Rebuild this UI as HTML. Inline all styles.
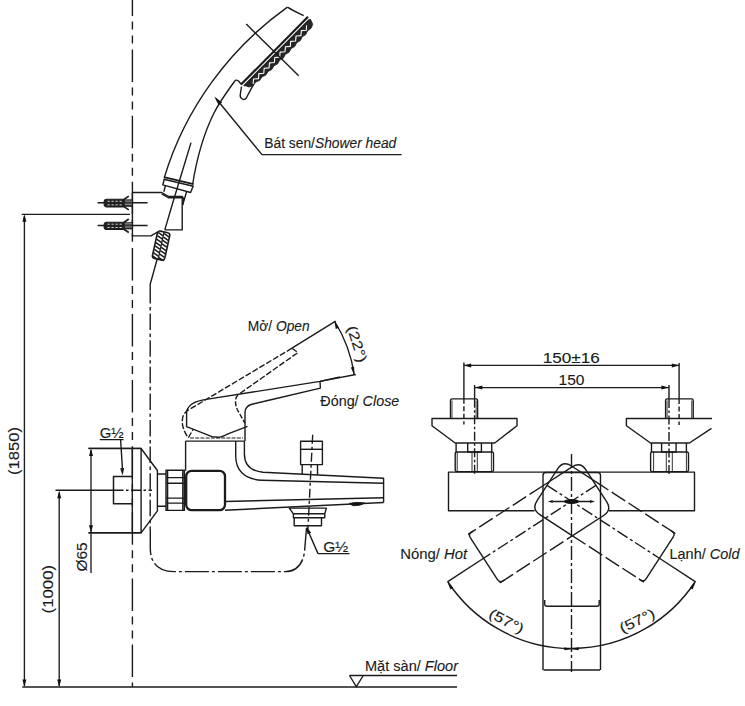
<!DOCTYPE html>
<html><head><meta charset="utf-8">
<style>
html,body{margin:0;padding:0;background:#fff;width:745px;height:706px;overflow:hidden}
svg{display:block}
text{font-family:"Liberation Sans",sans-serif}
</style></head><body>
<svg width="745" height="706" viewBox="0 0 745 706">
<g fill="none" stroke="#1b1b1b" stroke-width="1.4" stroke-linejoin="round" stroke-linecap="butt">
<path d="M132.4,0 V687" stroke-dasharray="32.5 5.5 8 6 8 6.1" stroke-dashoffset="16.5"/>
<path d="M132.4,192.5 V236.3" />
<path d="M287.4,7.1 C229.3,48.4 184.8,109.2 164.4,177.4" />
<path d="M287.4,7.1 C292,10 297,12.5 303.7,15.6" />
<path d="M308.00,16.80 L241.00,84.60" stroke-width="2.2"/>
<path d="M309.36,19.55 L243.77,85.93" stroke-width="1.4"/>
<path d="M310.28,19.05 L312.74,24.29 L311.06,28.34 L307.60,30.64 L305.80,34.57 L302.25,36.76 L300.35,40.60 L296.72,42.71 L294.76,46.49 L291.08,48.55 L289.09,52.29 L285.38,54.34 L283.38,58.07 L279.67,60.11 L277.65,63.82 L273.90,65.82 L271.83,69.49 L268.02,71.43 L265.88,75.02 L261.98,76.87 L259.73,80.36 L255.71,82.10 L253.34,85.46 L249.18,87.06 L244.68,85.43 z" fill="#262626" stroke="#1b1b1b" stroke-width="0.8"/>
<path d="M306.64,25.29 L306.26,30.23 L301.33,30.67 L300.95,35.60 L296.02,36.04 L295.64,40.98 L290.71,41.41 L290.33,46.35 L285.40,46.79 L285.02,51.72 L280.09,52.16 L279.71,57.10 L274.78,57.53 L274.40,62.47 L269.47,62.91 L269.09,67.84 L264.16,68.28 L263.78,73.22 L258.85,73.65 L258.47,78.59 L253.54,79.03 L253.16,83.96" fill="none" stroke="#fff" stroke-width="1.1"/>
<path d="M246.3,24.1 L298.7,75.8" />
<path d="M241.3,84.3 L238.5,81 C237,80 236,80 235.3,80.3 C229,89 220,101 214,113 C204,133 196.5,160 192.6,184.5" />
<path d="M241.5,86.5 L240.2,95 C240,99 244,100.5 246,98.5 L253.4,84.6" />
<path d="M216,98.5 L262,154.6 H401.6" />
<path d="M214.30,96.50 L222.05,102.42 L218.66,105.22 z" fill="#111" stroke="none"/>
<path d="M191,142.6 L172.1,205 L164.8,229.9" />
<path d="M163.8,177.1 L193.6,184.1" stroke-width="1.6"/>
<path d="M163.8,179.2 L193.3,186.2" stroke-width="1.6"/>
<path d="M164.4,178.8 L162.8,184.8 L190.6,192.5 L193.3,185.8" />
<path d="M165.4,185.8 L163.8,191.8 M186.6,191.8 L182.6,205" />
<path d="M132.4,192.5 H161.7 L168.8,196.5 H182.2 V229.9 H164.8 M157.9,231.9 L150.9,235.9 H132.4" />
<path d="M161.7,193.8 L168.8,197.8 H182.2" />
<path d="M182.2,196.5 L183.8,199 L182.6,205" />
<path d="M97.6,202.7 H147.6" stroke-width="1.5"/>
<rect x="104.1" y="199.3" width="21" height="7.6" rx="2.8" fill="#222" stroke="#1b1b1b" stroke-width="1.1"/>
<path d="M107.5,201.3 H122.5 M107.5,204.9 H122.5" stroke="#e8e8e8" stroke-width="0.9" stroke-dasharray="2.2 1.8"/>
<path d="M123.5,199.8 L128.8,196.1 M123.5,206.4 L128.8,209.9" stroke-width="1.7"/>
<rect x="124.6" y="199.8" width="7.5" height="6.6" fill="#3a3a3a" stroke="#1b1b1b" stroke-width="0.8"/>
<path d="M124.8,201.1 H131.8 M124.8,204.3 H131.8" stroke="#bbb" stroke-width="0.7"/>
<path d="M97.6,225.4 H147.6" stroke-width="1.5"/>
<rect x="104.1" y="222.2" width="21" height="7.3" rx="2.8" fill="#222" stroke="#1b1b1b" stroke-width="1.1"/>
<path d="M107.5,224.2 H122.5 M107.5,227.5 H122.5" stroke="#e8e8e8" stroke-width="0.9" stroke-dasharray="2.2 1.8"/>
<path d="M123.5,222.7 L128.8,219.0 M123.5,229.0 L128.8,232.5" stroke-width="1.7"/>
<rect x="124.6" y="222.7" width="7.5" height="6.3" fill="#3a3a3a" stroke="#1b1b1b" stroke-width="0.8"/>
<path d="M124.8,223.8 H131.8 M124.8,227.0 H131.8" stroke="#bbb" stroke-width="0.7"/>
<g transform="rotate(12.3 161 245.6)">
<rect x="154.8" y="231.6" width="12.6" height="28" rx="2.5" fill="#fff" stroke="#1b1b1b" stroke-width="1.6"/>
<path d="M155.3,233.2 L160.6,235.4 M161.6,233.2 L166.9,235.4" stroke="#1b1b1b" stroke-width="1.5"/>
<path d="M155.3,236.7 L160.6,238.9 M161.6,236.7 L166.9,238.9" stroke="#1b1b1b" stroke-width="1.5"/>
<path d="M155.3,240.2 L160.6,242.4 M161.6,240.2 L166.9,242.4" stroke="#1b1b1b" stroke-width="1.5"/>
<path d="M155.3,243.7 L160.6,245.9 M161.6,243.7 L166.9,245.9" stroke="#1b1b1b" stroke-width="1.5"/>
<path d="M155.3,247.2 L160.6,249.4 M161.6,247.2 L166.9,249.4" stroke="#1b1b1b" stroke-width="1.5"/>
<path d="M155.3,250.7 L160.6,252.9 M161.6,250.7 L166.9,252.9" stroke="#1b1b1b" stroke-width="1.5"/>
<path d="M155.3,254.2 L160.6,256.4 M161.6,254.2 L166.9,256.4" stroke="#1b1b1b" stroke-width="1.5"/>
<path d="M155.3,257.7 L160.6,259.9 M161.6,257.7 L166.9,259.9" stroke="#1b1b1b" stroke-width="1.5"/>
<path d="M161.1,231.6 V259.6" stroke="#1b1b1b" stroke-width="1.3"/>
</g>
<path d="M157,259.7 L150.2,284.3 V287" />
<path d="M150.2,287 V531" stroke-dasharray="16.5 3.5 3.4 3.2"/>
<path d="M150.3,531 V548 C150.3,563 158,571.6 174,571.6 H285 C297,571.6 303,563 304.5,552 L306.5,528" stroke-dasharray="24 3 3 3"/>
</g>
<g fill="none" stroke="#1b1b1b" stroke-width="1.35">
<path d="M24.4,216 V686" />
<path d="M21.7,214.3 H130" />
<path d="M59.2,492.5 V686" />
<path d="M91,450 V572.9" />
<path d="M88.5,448.4 H141.4 M88.5,532.8 H141.4" />
<path d="M22.3,687 H457" />
<path d="M349.5,675.5 H457" />
<path d="M349.5,675.5 L356.3,686.6 L363.3,675.5" />
</g>
<path d="M24.40,214.30 L26.40,221.80 L22.40,221.80 z" fill="#111" stroke="none"/>
<path d="M24.40,687.00 L22.40,679.50 L26.40,679.50 z" fill="#111" stroke="none"/>
<path d="M59.20,490.80 L61.20,498.30 L57.20,498.30 z" fill="#111" stroke="none"/>
<path d="M59.20,687.00 L57.20,679.50 L61.20,679.50 z" fill="#111" stroke="none"/>
<path d="M91.00,448.40 L93.00,455.90 L89.00,455.90 z" fill="#111" stroke="none"/>
<path d="M91.00,532.80 L89.00,525.30 L93.00,525.30 z" fill="#111" stroke="none"/>
<g fill="#1b1b1b" stroke="#1b1b1b" stroke-width="0.12">
<text x="0" y="0" font-size="14" transform="translate(18.8,451) rotate(-90)" textLength="48" lengthAdjust="spacingAndGlyphs" text-anchor="middle">(1850)</text>
<text x="0" y="0" font-size="14" transform="translate(52.8,589.2) rotate(-90)" textLength="48.5" lengthAdjust="spacingAndGlyphs" text-anchor="middle">(1000)</text>
<text x="0" y="0" font-size="14" transform="translate(87,557) rotate(-90)" textLength="29" lengthAdjust="spacingAndGlyphs" text-anchor="middle">Ø65</text>
<text x="365" y="671" font-size="14" textLength="93" lengthAdjust="spacingAndGlyphs">Mặt sàn/ <tspan font-style="italic">Floor</tspan></text>
<text x="264.3" y="147.7" font-size="14" textLength="132" lengthAdjust="spacingAndGlyphs">Bát sen/<tspan font-style="italic">Shower head</tspan></text>
<text x="247.7" y="330.7" font-size="14" textLength="62" lengthAdjust="spacingAndGlyphs">Mở/ <tspan font-style="italic">Open</tspan></text>
<text x="320.3" y="406.4" font-size="14" textLength="79" lengthAdjust="spacingAndGlyphs">Đóng/ <tspan font-style="italic">Close</tspan></text>
<text x="99.8" y="437.7" font-size="14" textLength="24" lengthAdjust="spacingAndGlyphs">G½</text>
<text x="323.3" y="552.2" font-size="14" textLength="25" lengthAdjust="spacingAndGlyphs">G½</text>
<text x="542.8" y="363" font-size="14" textLength="57" lengthAdjust="spacingAndGlyphs">150±16</text>
<text x="558.5" y="385.2" font-size="14" textLength="26" lengthAdjust="spacingAndGlyphs">150</text>
<text x="400.2" y="559.2" font-size="14" textLength="67" lengthAdjust="spacingAndGlyphs">Nóng/ <tspan font-style="italic">Hot</tspan></text>
<text x="669.5" y="559" font-size="14" textLength="70" lengthAdjust="spacingAndGlyphs">Lạnh/ <tspan font-style="italic">Cold</tspan></text>
<text x="0" y="0" font-size="14" transform="translate(352.5,345.5) rotate(72)" textLength="38" lengthAdjust="spacingAndGlyphs" text-anchor="middle">(22°)</text>
<text x="0" y="0" font-size="14" transform="translate(504.3,625.3) rotate(27.5)" textLength="37.5" lengthAdjust="spacingAndGlyphs" text-anchor="middle">(57°)</text>
<text x="0" y="0" font-size="14" transform="translate(639.2,625) rotate(-26)" textLength="37.5" lengthAdjust="spacingAndGlyphs" text-anchor="middle">(57°)</text>
</g>
<g fill="none" stroke="#1b1b1b" stroke-width="1.4" stroke-linejoin="round">
<path d="M132.3,448.5 V532.8" />
<path d="M88.5,448.5 H141.1 L157.4,470.5 V510.9 L141.1,532.8 H88.5 M141.1,448.5 V532.8" />
<path d="M132.3,476.6 H113.5 V503.8 H132.3" stroke-width="1.5"/>
<path d="M99.8,439.6 H123.5 M120.6,439.6 L122.4,468" />
<path d="M55.5,490.3 H113.5" />
<path d="M113.5,490.3 H152" stroke-dasharray="10 2.5 2.5 2.5"/>
<path d="M157.4,474 H166 M157.4,506.3 H166" />
<path d="M166,470.2 H184.4 V510.4 H166 z M167.6,470.2 V510.4 M182.8,470.2 V510.4 M166,477.6 H184.4 M166,483.2 H184.4 M166,498.1 H184.4 M166,503.1 H184.4" />
<rect x="186.2" y="470.8" width="38.8" height="39.4" rx="5.5" stroke-width="2.3"/>
<path d="M185.6,441.1 V470.8" />
<path d="M185.6,441.1 H244.4" />
<path d="M235.7,441.1 V456 C235.7,470 244,479.5 262,480.2 L383.6,483.2" />
<path d="M244.4,441.1 V454 C244.4,464 250,471 263,472.2 L383.6,478.3 V502.5" />
<path d="M225,501.5 L383.6,497.7" />
<path d="M225,510.2 L383.6,502.5" />
<path d="M349,503.4 Q357,501.5 365,503 Q361,506 353,505.8 z" fill="#111" stroke-width="0.8"/>
<path d="M300.6,441.3 H322.4 V464.6 H300.6 z" stroke-width="1.4"/>
<path d="M300.6,449.3 H322.4" />
<path d="M302.2,464.6 V474.3 M317.5,464.6 V475" />
<path d="M312.7,434.8 L307.9,529" stroke-dasharray="9 3 3 3"/>
<path d="M289.3,508.1 H326.4 L324.8,513.8 H293.4 z M293.4,513.8 V517.8 H324.8 V513.8 M294.2,517.8 H321.5 V525.8 H294.2 z" />
<path d="M318,553.6 H349.5 M318,553.6 L306.8,528" />
</g>
<path d="M122.60,475.60 L120.16,468.23 L124.16,468.00 z" fill="#111" stroke="none"/>
<path d="M306.50,526.50 L311.14,532.72 L307.43,534.21 z" fill="#111" stroke="none"/>
<g fill="none" stroke="#1b1b1b" stroke-width="1.4" stroke-linejoin="round">
<path d="M190,438 H243" stroke-dasharray="4 1.2" stroke-width="1.0"/>
<path d="M340,377 L320,381.4 L206.3,399.4 C197,400.6 188.5,404 186.6,411.5 V426.7 L212,436.6 L217.7,437.3 C221,437.4 224,436 228,433.8 L247.5,426.3" />
<path d="M320,381.4 L320.4,388.1 L269.9,400 L251,404.5 C247,406 245.2,408.5 245,412 V441" />
<path d="M237.8,395 C234.5,399 235,404 237.5,410 L245,423.3" stroke-dasharray="5 1.8"/>
<path d="M292,348.2 L186.5,411.2 C181,416 180,426 188.3,437.8 L193.1,429.4" stroke-dasharray="6 2"/>
<path d="M292,348.2 L297.9,352.6 L238.1,394.7" stroke-dasharray="6 2"/>
<path d="M292,348.2 L335.6,321.2" />
<path d="M320,381.4 L355.8,374.5" />
<path d="M334.4,321 A 140 140 0 0 1 354.3,375" />
</g>
<path d="M334.40,321.00 L338.89,327.83 L335.73,329.07 z" fill="#111" stroke="none"/>
<path d="M354.30,375.00 L350.82,367.60 L354.13,366.82 z" fill="#111" stroke="none"/>
<g fill="none" stroke="#1b1b1b" stroke-width="1.4" stroke-linejoin="round">
<path d="M463.9,365.4 H679.1 M474.6,387.6 H669" />
<path d="M463.9,362.6 V398.7 M679.1,363 V399 M474.6,385 V398.7 M669,385 V399" />
<path d="M463.9,398.7 V424.5 M679.1,399 V424.9" stroke-dasharray="5 2.5"/>
<path d="M474.6,398.7 V475.9 M669,399 V475.9" stroke-dasharray="9 2.5 2.5 2.5"/>
<path d="M450.5,418.5 V400.5 Q450.5,398.9 452.1,398.9 H476.0 Q477.6,398.9 477.6,400.5 V418.5" />
<path d="M452.0,400.5 V418.5 M476.1,400.5 V418.5" stroke-width="0.8"/>
<path d="M432,418.5 H517 V425.8 L494.7,443 H455.1 L432,425.8 z" />
<path d="M456.1,443 V452 M491.7,443 V452 M467.7,443 V452 H481.4 V443" />
<path d="M456.7,452 H492.0 Q493.5,452 493.5,454 V469.6 Q493.5,471.6 492.0,471.6 H456.7 Q455.2,471.6 455.2,469.6 V454 Q455.2,452 456.7,452 z" />
<path d="M457.2,452 V471.6 M472,452 V471.6 M477.3,452 V471.6 M491.4,452 V471.6" stroke-width="0.9"/>
<path d="M665.6,418.5 V400.5 Q665.6,398.9 667.2,398.9 H691.6 Q693.2,398.9 693.2,400.5 V418.5" />
<path d="M667.1,400.5 V418.5 M691.7,400.5 V418.5" stroke-width="0.8"/>
<path d="M712,418.5 H626.4 V425.8 L650.5,443 H689.4 L711.5,428.3" />
<path d="M651.5,443 V452 M686.4,443 V452 M661.6,443 V452 H676.1 V443" />
<path d="M652.1,452 H687.0 Q688.5,452 688.5,454 V469.6 Q688.5,471.6 687.0,471.6 H652.1 Q650.6,471.6 650.6,469.6 V454 Q650.6,452 652.1,452 z" />
<path d="M653.6,452 V471.6 M666.3,452 V471.6 M672.3,452 V471.6 M686.4,452 V471.6" stroke-width="0.9"/>
<path d="M534.5,510.8 H448.5 V472.1 H694.5 V510.8 H609" />
<path d="M543,670 V475.5 Q543,472.5 546,472.5 H597.5 Q600.5,472.5 600.5,475.5 V670" />
<path d="M543.5,670 H600" />
<path d="M544.7,600 V604 Q544.7,606.2 547,606.2 H597 Q599.2,606.2 599.2,604 V600" />
<path d="M571.5,454 V672" stroke-dasharray="14 3 3 3"/>
<path d="M553,501.5 H590" />
<path d="M448,582 A148 148 0 0 0 695,582" />
<g transform="rotate(57 571.5 501.2)">
<path d="M543,516.7 V482 Q543,472 553,472 H591 Q601,472 601,482 V520.4" />
<path d="M543,516.7 V606 M601,606 V520.4" stroke-dasharray="16 4"/>
<path d="M543,602 Q543,606 547,606 H597 Q601,606 601,602 M543,600 V602 M601,600 V602" />
<path d="M571.5,472 V606" stroke-dasharray="12 3 3 3"/>
<path d="M571.5,606 V649.2" />
</g>
<g transform="rotate(-57 571.5 501.2)">
<path d="M543,520.4 V482 Q543,472 553,472 H591 Q601,472 601,482 V516.7" />
<path d="M543,520.4 V606 M601,606 V516.7" stroke-dasharray="16 4"/>
<path d="M543,602 Q543,606 547,606 H597 Q601,606 601,602 M543,600 V602 M601,600 V602" />
<path d="M571.5,472 V606" stroke-dasharray="12 3 3 3"/>
<path d="M571.5,606 V649.2" />
</g>
</g>
<path d="M463.70,365.40 L471.20,363.40 L471.20,367.40 z" fill="#111" stroke="none"/>
<path d="M679.30,365.40 L671.80,367.40 L671.80,363.40 z" fill="#111" stroke="none"/>
<path d="M474.80,387.60 L482.30,385.60 L482.30,389.60 z" fill="#111" stroke="none"/>
<path d="M668.90,387.60 L661.40,389.60 L661.40,385.60 z" fill="#111" stroke="none"/>
<path d="M547.80,501.50 L552.80,500.00 L552.80,503.00 z" fill="#111" stroke="none"/>
<path d="M595.00,501.50 L590.00,503.00 L590.00,500.00 z" fill="#111" stroke="none"/>
<path d="M447.38,581.81 L453.08,587.64 L450.39,589.39 z" fill="#111" stroke="none"/>
<path d="M695.62,581.81 L692.61,589.39 L689.92,587.64 z" fill="#111" stroke="none"/>
<path d="M571.30,649.20 L564.24,650.36 L564.38,647.36 z" fill="#111" stroke="none"/>
<path d="M571.70,649.20 L578.62,647.36 L578.76,650.36 z" fill="#111" stroke="none"/>
<ellipse cx="571.5" cy="501.5" rx="7.5" ry="2.6" fill="#111"/>
</svg>
</body></html>
